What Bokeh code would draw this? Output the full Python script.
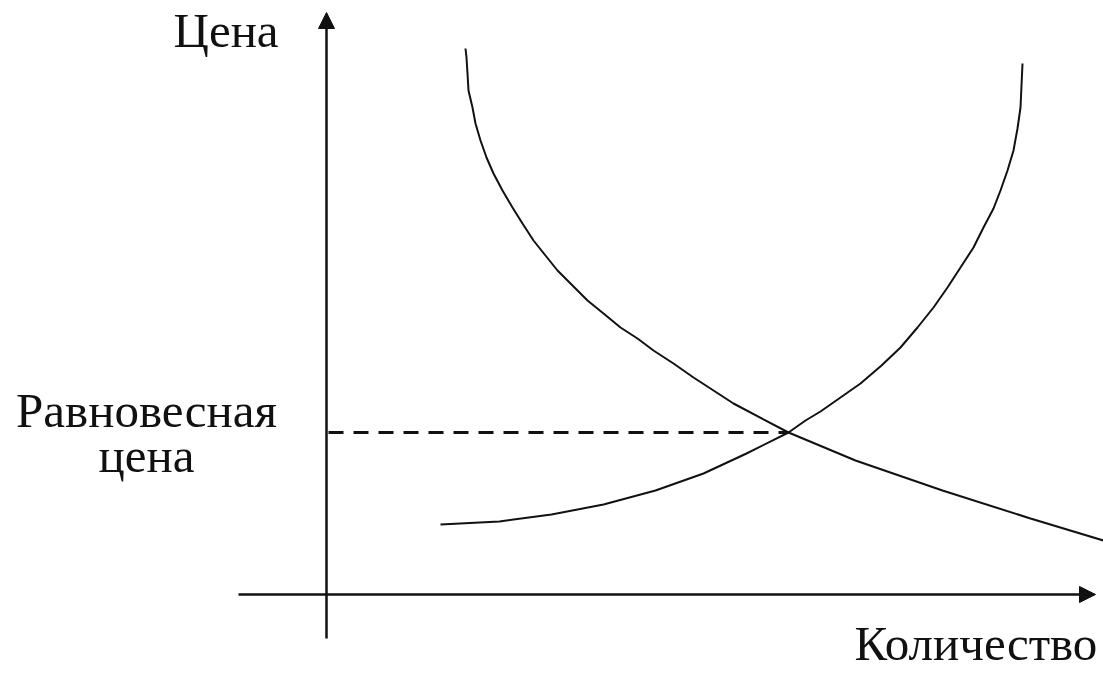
from bokeh.plotting import figure
from bokeh.models import Range1d, Arrow, NormalHead
from bokeh.core.properties import value
from bokeh.embed import file_html
from bokeh.resources import INLINE

# Demand curve (quantity, price)
demand_q = [139, 140, 141, 142, 146, 149, 154, 160, 167, 176, 186, 196, 207, 219, 231,
            246, 261, 277, 294, 311, 327, 347, 367, 387, 407, 462, 529, 616, 704, 777]
demand_p = [546, 537, 521, 504, 487, 471, 454, 437, 421, 404, 387, 371, 354, 339, 324,
            309, 294, 281, 267, 256, 244, 231, 217, 204, 191, 162, 134, 104, 76, 54]

# Supply curve
supply_q = [114, 173, 225, 277, 329, 377, 420, 462, 479, 494, 514, 534, 555, 574, 591,
            607, 621, 634, 647, 657, 667, 674, 681, 687, 691, 694, 695, 696]
supply_p = [70, 73, 80, 90, 104, 121, 141, 162, 174, 183, 197, 211, 229, 247, 267,
            287, 307, 327, 347, 367, 386, 404, 424, 444, 466, 487, 509, 531]

# Equilibrium
eq_q = 462
eq_p = 162

# Axis extents
x_axis_q = [-88, 769]
y_axis_p = [-44, 582]

# Labels
label_price = "Цена"
label_qty = "Количество"
label_eq = ["Равновесная", "цена"]

FONT = "Liberation Serif"

p = figure(width=1103, height=673, output_backend="svg", toolbar_location=None,
           x_range=Range1d(-326, 777), y_range=Range1d(-79, 594),
           min_border=0, background_fill_color="white", border_fill_color="white")
p.xaxis.visible = False
p.yaxis.visible = False
p.grid.visible = False
p.outline_line_color = None

ink = "#111111"

# Axes with arrows
p.add_layout(Arrow(end=NormalHead(size=16, fill_color=ink, line_color=ink, line_width=1),
                   x_start=x_axis_q[0], y_start=0, x_end=x_axis_q[1], y_end=0,
                   line_color=ink, line_width=2.5))
p.add_layout(Arrow(end=NormalHead(size=16, fill_color=ink, line_color=ink, line_width=1),
                   x_start=0, y_start=y_axis_p[0], x_end=0, y_end=y_axis_p[1],
                   line_color=ink, line_width=2.5))

# Curves
p.line(demand_q, demand_p, line_color=ink, line_width=2)
p.line(supply_q, supply_p, line_color=ink, line_width=2)

# Equilibrium dashed line
p.line([2, eq_q], [eq_p, eq_p], line_color=ink, line_width=3, line_dash="15 10")

# Texts
p.text(x=[-153], y=[564], text=[label_price], text_font=value(FONT), text_font_size="49px",
       text_align="left", text_baseline="alphabetic", text_color=ink)
p.text(x=[528], y=[-49], text=[label_qty], text_font=value(FONT), text_font_size="49px",
       text_align="left", text_baseline="alphabetic", text_color=ink)
p.text(x=[-180, -180], y=[184, 139], text=label_eq, text_font=value(FONT), text_font_size="49px",
       text_align="center", text_baseline="alphabetic", text_color=ink)

open("out.html", "w").write(file_html(p, INLINE))
